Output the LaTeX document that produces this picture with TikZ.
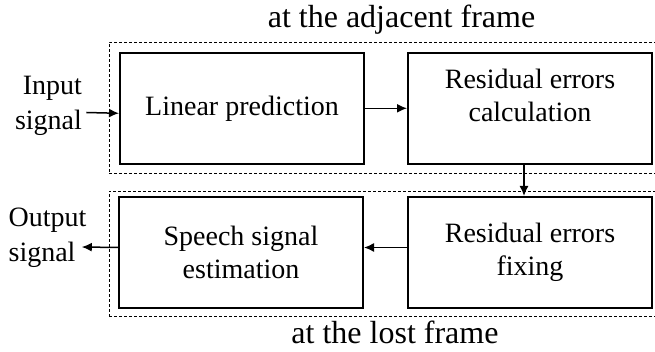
\documentclass[tikz,border=0pt]{standalone}
\usepackage{fontspec}
\setmainfont{Liberation Serif}
\usepackage{tikz}
\usetikzlibrary{arrows.meta}
\tikzstyle{blk}=[rectangle, draw, line width=1pt,% the four processing boxes
minimum width=122pt, minimum height=55.5pt, align=center, font=\fontsize{14}{16.3}\selectfont]
\tikzstyle{frm}=[rectangle, draw, dash pattern=on 1.5pt off 1pt, line width=0.4pt, inner sep=0pt]
\tikzstyle{lbl}=[inner sep=0pt, font=\fontsize{14}{17.5}\selectfont]
\tikzstyle{ttl}=[inner sep=0pt, font=\fontsize{16}{19}\selectfont]
\tikzstyle{arr}=[-{Latex[length=5pt,width=4.5pt]}, line width=0.75pt]

\begin{document}
\begin{tikzpicture}[x=0.5pt,y=-0.5pt]
\useasboundingbox (0,0) rectangle (655,352);

\node[frm,minimum width=275.5pt,minimum height=65.5pt] (adj) at (384.5,107.5) {};
\node[frm,minimum width=275.5pt,minimum height=62.5pt] (lost) at (384.5,253.5) {};

\node[ttl] (adjt) at (401.5,20) {at the adjacent frame};
\node[ttl] (lostt) at (395,332) {at the lost frame};

\node[blk] (lp) at (242,108.3) {Linear prediction};
\node[blk,text depth=13pt] (rec) at (530,108.3) {Residual errors\\calculation};
\node[blk] (sse) at (241,252.5) {Speech signal\\estimation};
\node[blk] (ref) at (530,252.5) {Residual errors\\fixing};

\node[lbl,align=right] (inp) at (48.5,105.5) {Input\\signal};
\node[lbl,align=left] (outp) at (47.5,238) {Output\\signal};

\draw[arr] ([xshift=2pt,yshift=-3.5pt]inp.east) -- ([yshift=-2.5pt]lp.west);
\draw[arr] (lp) -- (rec.west |- lp);
\draw[arr] ([xshift=-3pt]rec.south) -- ([xshift=-3pt]ref.north);
\draw[arr] ([yshift=2.5pt]ref.west) -- ([yshift=2.5pt]sse.east);
\draw[arr] ([yshift=2.5pt]sse.west) -- ([xshift=-2.5pt,yshift=-4.5pt]outp.east);

\end{tikzpicture}
\end{document}
